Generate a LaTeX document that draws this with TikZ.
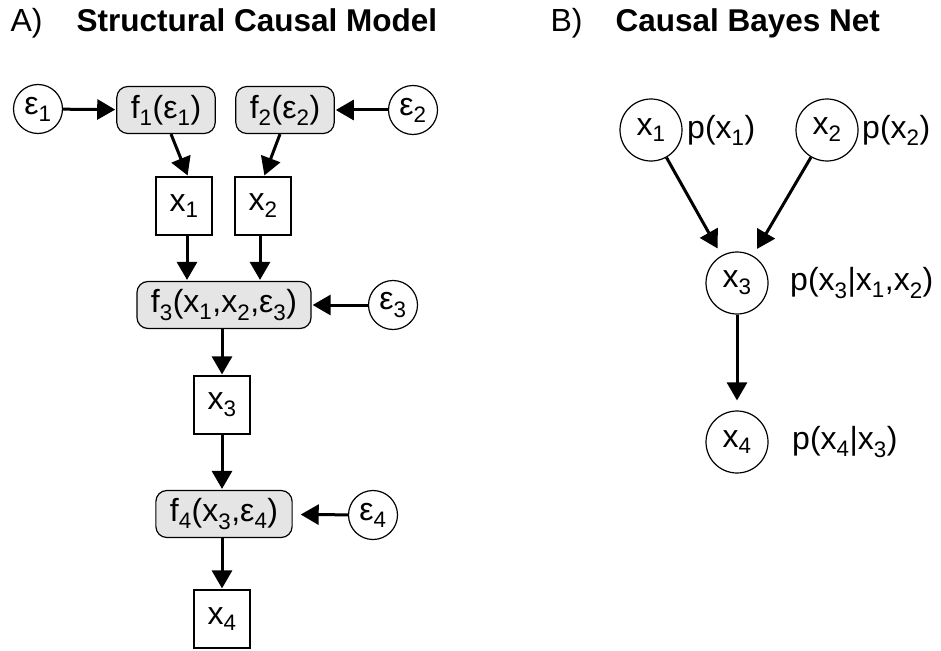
\documentclass[tikz,border=0pt]{standalone}
\usepackage{fontspec}
\setmainfont{Liberation Sans}
\usetikzlibrary{arrows.meta}
\def\lo#1{\textsubscript{#1}}
\definecolor{fgray}{gray}{0.9}

\begin{document}
\begin{tikzpicture}[x=1pt,y=-1pt,
	every node/.style={font=\fontsize{32}{38}\selectfont},
	fbox/.style={draw, rounded corners=11pt, fill=fgray, line width=1.2pt, minimum height=47pt, inner xsep=14pt, inner ysep=0pt},
	vbox/.style={draw, line width=1.2pt, minimum width=56pt, minimum height=58pt, inner sep=0pt},
	enode/.style={draw, circle, line width=1.2pt, minimum size=49pt, inner sep=0pt},
	bnode/.style={draw, circle, line width=1.2pt, minimum size=62pt, inner sep=0pt},
	arr/.style={-{Triangle[length=18pt,width=20pt]}, line width=3pt, shorten >=1pt},
	ttl/.style={anchor=base west, font=\fontsize{31.5}{36}\selectfont\bfseries}
	]
			%%%%% START %%%%%
			\useasboundingbox (0, 0) rectangle (941, 650);
			
			\node[anchor=base west] (la) at (7, 32) {A)};
			\node[ttl] (ta) at (73, 32) {Structural Causal Model};
			\node[anchor=base west] (lb) at (547, 32) {B)};
			\node[ttl] (tb) at (612, 32) {Causal Bayes Net};
			
			%% structural causal model
			\node[enode] (e1) at (38, 109) {ε\lo{1}};
			\node[fbox] (f1) at (166, 110) {f\lo{1}(ε\lo{1})};
			\node[fbox] (f2) at (285, 110) {f\lo{2}(ε\lo{2})};
			\node[enode] (e2) at (413, 110) {ε\lo{2}};
			
			\node[vbox] (x1) at (184, 206) {x\lo{1}};
			\node[vbox] (x2) at (263, 206) {x\lo{2}};
			
			\node[fbox] (f3) at (224, 305) {f\lo{3}(x\lo{1},x\lo{2},ε\lo{3})};
			\node[enode] (e3) at (393, 305) {ε\lo{3}};
			
			\node[vbox] (x3) at (222, 405) {x\lo{3}};
			
			\node[fbox] (f4) at (224, 514) {f\lo{4}(x\lo{3},ε\lo{4})};
			\node[enode] (e4) at (373, 515) {ε\lo{4}};
			
			\node[vbox] (x4) at (222, 619) {x\lo{4}};
			
			\draw[arr] (e1) -- (f1);
			\draw[arr] (e2) -- (f2);
			\draw[arr] ([xshift=5pt]f1.south) -- ([xshift=4pt]x1.north);
			\draw[arr] ([xshift=-5pt]f2.south) -- ([xshift=1pt]x2.north);
			\draw[arr] ([xshift=3pt]x1.south) -- ([xshift=3pt]x1.south |- f3.north);
			\draw[arr] ([xshift=-3pt]x2.south) -- ([xshift=-3pt]x2.south |- f3.north);
			\draw[arr] (e3) -- (f3);
			\draw[arr] (f3.south -| x3.north) -- (x3.north);
			\draw[arr] (x3.south) -- (x3.south |- f4.north);
			\draw[arr, shorten >=8pt] (e4) -- (f4);
			\draw[arr] (f4.south -| x4.north) -- (x4.north);
			
			%% causal bayes net
			\node[bnode] (b1) at (651, 130) {x\lo{1}};
			\node[bnode] (b2) at (827, 130) {x\lo{2}};
			\node[bnode] (b3) at (737, 283) {x\lo{3}};
			\node[bnode] (b4) at (737, 442) {x\lo{4}};
			
			\node[anchor=west, inner sep=0pt] (p1) at (687, 130) {p(x\lo{1})};
			\node[anchor=west, inner sep=0pt] (p2) at (862, 130) {p(x\lo{2})};
			\node[anchor=west, inner sep=0pt] (p3) at (790, 283) {p(x\lo{3}|x\lo{1},x\lo{2})};
			\node[anchor=west, inner sep=0pt] (p4) at (792, 442) {p(x\lo{4}|x\lo{3})};
			
			\draw[arr, shorten >=8pt] (b1) -- (b3);
			\draw[arr, shorten >=8pt] (b2) -- (b3);
			\draw[arr, shorten >=10pt] (b3) -- (b4);
			
			%%%%% END %%%%%
\end{tikzpicture}
\end{document}
